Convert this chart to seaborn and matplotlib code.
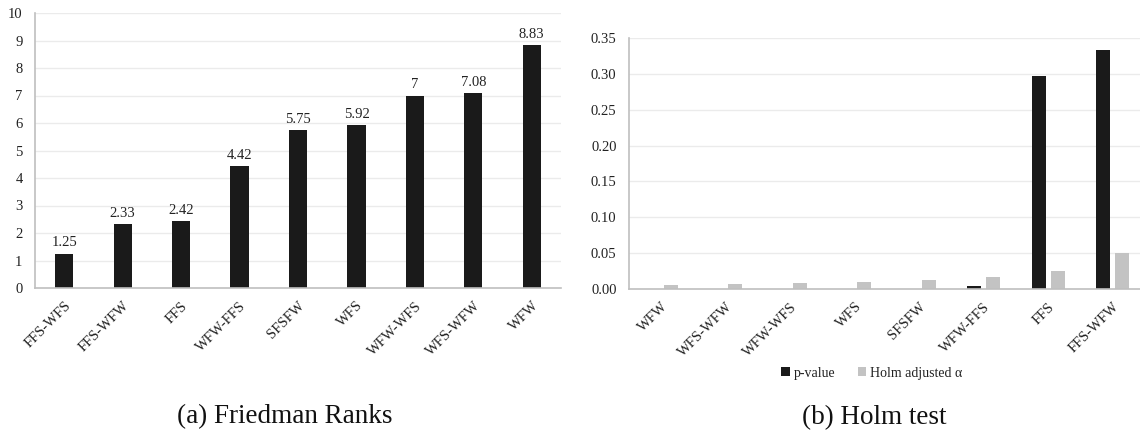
import matplotlib
matplotlib.use("Agg")
import matplotlib.pyplot as plt
import seaborn as sns
import pandas as pd
from matplotlib.patches import Patch

# ---- data ----
rank_methods = ["FFS-WFS", "FFS-WFW", "FFS", "WFW-FFS", "SFSFW", "WFS", "WFW-WFS", "WFS-WFW", "WFW"]
rank_values = [1.25, 2.33, 2.42, 4.42, 5.75, 5.92, 7, 7.08, 8.83]

holm_methods = ["WFW", "WFS-WFW", "WFW-WFS", "WFS", "SFSFW", "WFW-FFS", "FFS", "FFS-WFW"]
p_values = [0.00001, 0.00001, 0.00002, 0.00005, 0.0001, 0.0044, 0.297, 0.333]
holm_alpha = [0.00625, 0.00714, 0.00833, 0.01, 0.0125, 0.0167, 0.025, 0.05]
series_names = ["p-value", "Holm adjusted α"]

rank_ticks = list(range(0, 11))
holm_ticks = [0.0, 0.05, 0.10, 0.15, 0.20, 0.25, 0.30, 0.35]

# ---- style ----
sns.set_theme(style="white")
plt.rcParams["font.family"] = ["Liberation Serif", "DejaVu Serif"]
DARK = "#1a1a1a"
LIGHT = "#c3c3c3"
SPINE = "#bfbfbf"
GRID = "#ebebeb"

W, H = 1140, 433
fig = plt.figure(figsize=(W / 100, H / 100), dpi=100)

def px_axes(left, right, top, bottom):
    return fig.add_axes([left / W, 1 - bottom / H, (right - left) / W, (bottom - top) / H])

ax1 = px_axes(35, 561, 13, 288)
ax2 = px_axes(629, 1140, 38, 289)

# ---- left: Friedman ranks ----
df1 = pd.DataFrame({"method": rank_methods, "rank": rank_values})
sns.barplot(data=df1, x="method", y="rank", color=DARK, width=0.31,
            saturation=1, ax=ax1, linewidth=0)
ax1.bar_label(ax1.containers[0], labels=[f"{v:g}" for v in rank_values],
              padding=3, fontsize=10.5, color="#222222")
ax1.set_ylim(0, 10)
ax1.set_yticks(rank_ticks)
ax1.set_xlim(-0.5, len(rank_methods) - 0.5)

# ---- right: Holm test ----
df2 = pd.DataFrame({
    "method": holm_methods * 2,
    "value": p_values + holm_alpha,
    "series": [series_names[0]] * len(holm_methods) + [series_names[1]] * len(holm_methods),
})
sns.barplot(data=df2, x="method", y="value", hue="series",
            palette=[DARK, LIGHT], width=0.58, gap=0.25, saturation=1,
            linewidth=0, ax=ax2, legend=False)
ax2.set_ylim(0, 0.35)
ax2.set_yticks(holm_ticks)
ax2.set_yticklabels([f"{t:.2f}" for t in holm_ticks])
ax2.set_xlim(-0.5, (1140 - 629) / 64.5 - 0.5)

for ax in (ax1, ax2):
    ax.set_xlabel("")
    ax.set_ylabel("")
    ax.grid(axis="y", color=GRID, linewidth=1.0)
    ax.set_axisbelow(True)
    for s in ("top", "right"):
        ax.spines[s].set_visible(False)
    for s in ("left", "bottom"):
        ax.spines[s].set_color(SPINE)
        ax.spines[s].set_linewidth(1.2)
    ax.tick_params(axis="both", length=0, colors="#222222")
    ax.tick_params(axis="y", labelsize=10.5, pad=9)
    ax.tick_params(axis="x", labelsize=10.5, pad=8)
    for lab in ax.get_xticklabels():
        lab.set_rotation(45)
        lab.set_ha("right")
        lab.set_rotation_mode("anchor")

# legend
handles = [Patch(facecolor=DARK, edgecolor="none"), Patch(facecolor=LIGHT, edgecolor="none")]
fig.legend(handles, series_names, loc="center", bbox_to_anchor=(872 / W, 1 - 373 / H),
           ncol=2, frameon=False, fontsize=10, handlelength=0.6, handleheight=0.6,
           handletextpad=0.3, columnspacing=1.6, labelcolor="#222222")

# captions
fig.text(285 / W, 1 - 417 / H, "(a) Friedman Ranks", ha="center", va="center",
         fontsize=19.5, color="#111111")
fig.text(874.5 / W, 1 - 418 / H, "(b) Holm test", ha="center", va="center",
         fontsize=19.5, color="#111111")

fig.savefig("out.png", dpi=100, facecolor="white")
